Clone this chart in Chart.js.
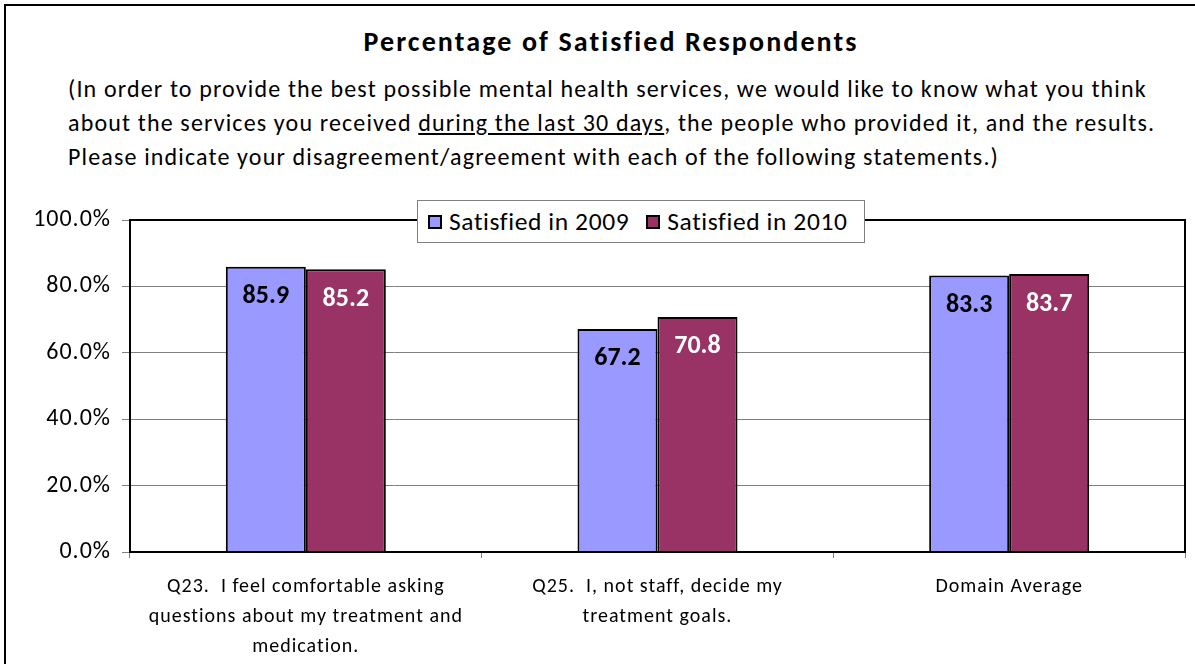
<!DOCTYPE html>
<html>
<head>
<meta charset="utf-8">
<script src="https://cdn.jsdelivr.net/npm/chart.js@4"></script>
<style>
    body { margin: 0; background: #fff; }
    #wrap { position: relative; width: 1195px; height: 664px; overflow: hidden; font-family: Carlito, Lato, "Liberation Sans", sans-serif; }
    #frame { position: absolute; left: 4px; top: 4px; width: 1300px; height: 800px; border: 2px solid #000; }
    #titulo { position: absolute; left: 0; width: 1222px; top: 24px; text-align: center; font-weight: bold; font-size: 28px; letter-spacing: 2.1px; color: #000; }
    #subtitulo { position: absolute; left: 68px; top: 72px; font-size: 24px; line-height: 34px; color: #000; letter-spacing: 1.15px; }
    #legenda { position: absolute; left: 417px; top: 200px; width: 446px; height: 41px; border: 1px solid #808080; background: #fff; display: flex; align-items: center; font-size: 25.5px; letter-spacing: 0.6px; }
    .item { display: flex; align-items: center; margin-left: 10px; }
    .item + .item { margin-left: 17px; }
    .caixa { width: 10px; height: 10px; border: 2px solid #000; margin-right: 7px; }
    canvas { position: absolute; left: 0; top: 0; }
</style>
</head>
<body>
<div id="wrap">
    <div id="frame"></div>
    <div id="titulo">Percentage of Satisfied Respondents</div>
    <div id="subtitulo">(In order to provide the best possible mental health services, we would like to know what you think<br>about the services you received <u>during the last 30 days</u>, the people who provided it, and the results.<br>Please indicate your disagreement/agreement with each of the following statements.)</div>
    <canvas id="grafico" width="1195" height="664"></canvas>
    <div id="legenda"></div>
</div>
<script>
const categorias = [
    ["Q23.  I feel comfortable asking", "questions about my treatment and", "medication."],
    ["Q25.  I, not staff, decide my", "treatment goals."],
    "Domain Average"
];
const satisfeitos2009 = [85.9, 67.2, 83.3];
const satisfeitos2010 = [85.2, 70.8, 83.7];
const ticksY = [0, 20, 40, 60, 80, 100];

const fonte = "Carlito, Lato, 'Liberation Sans', sans-serif";

// espacamento entre letras para os textos dos eixos
const espacamento = {
    id: "espacamento",
    beforeDraw(chart) {
        chart.ctx.letterSpacing = "1px";
    }
};

// borda preta em volta da area do grafico
const bordaArea = {
    id: "bordaArea",
    afterDraw(chart) {
        const { ctx, chartArea: a } = chart;
        ctx.save();
        ctx.strokeStyle = "#000";
        ctx.lineWidth = 2;
        ctx.strokeRect(a.left, a.top, a.right - a.left, a.bottom - a.top);
        ctx.restore();
    }
};

// valores escritos dentro das barras, perto do topo
const rotulosValores = {
    id: "rotulosValores",
    afterDatasetsDraw(chart) {
        const ctx = chart.ctx;
        ctx.save();
        ctx.letterSpacing = "0px";
        ctx.font = "bold 26px " + fonte;
        ctx.textAlign = "center";
        ctx.textBaseline = "middle";
        chart.data.datasets.forEach((ds, i) => {
            chart.getDatasetMeta(i).data.forEach((barra, j) => {
                ctx.fillStyle = ds.corRotulo;
                ctx.fillText(ds.data[j].toFixed(1), barra.x, barra.y + 30);
            });
        });
        ctx.restore();
    }
};

const ctx = document.getElementById("grafico").getContext("2d");
const grafico = new Chart(ctx, {
    type: "bar",
    data: {
        labels: categorias,
        datasets: [
            {
                label: "Satisfied in 2009",
                data: satisfeitos2009,
                backgroundColor: "#9999FF",
                borderColor: "#000",
                borderWidth: 2,
                corRotulo: "#000",
            },
            {
                label: "Satisfied in 2010",
                data: satisfeitos2010,
                backgroundColor: "#993366",
                borderColor: "#000",
                borderWidth: 2,
                corRotulo: "#fff",
            },
        ],
    },
    options: {
        responsive: false,
        animation: false,
        layout: { padding: { left: 0, top: 220, right: 10, bottom: 0 } },
        datasets: { bar: { categoryPercentage: 0.455, barPercentage: 1.0 } },
        plugins: {
            legend: { display: false },
            tooltip: { enabled: false },
        },
        scales: {
            x: {
                grid: { drawOnChartArea: false, color: "#808080", tickLength: 6, offset: true },
                border: { color: "#000", width: 2 },
                ticks: {
                    color: "#000",
                    font: { family: fonte, size: 20, lineHeight: 1.5 },
                    padding: 14,
                    maxRotation: 0,
                    autoSkip: false,
                },
                afterFit(escala) { escala.height = 112; },
            },
            y: {
                min: 0,
                max: 100,
                afterBuildTicks(escala) { escala.ticks = ticksY.map((v) => ({ value: v })); },
                grid: { color: "#808080", lineWidth: 1, tickLength: 8 },
                border: { color: "#000", width: 2 },
                ticks: {
                    color: "#000",
                    font: { family: fonte, size: 24 },
                    padding: 11,
                    callback: (v) => v.toFixed(1) + "%",
                },
                afterFit(escala) { escala.width = 130; },
            },
        },
    },
    plugins: [espacamento, bordaArea, rotulosValores],
});

// legenda em html, montada a partir dos datasets
const legenda = document.getElementById("legenda");
grafico.data.datasets.forEach((ds) => {
    const item = document.createElement("div");
    item.className = "item";
    const caixa = document.createElement("div");
    caixa.className = "caixa";
    caixa.style.background = ds.backgroundColor;
    const texto = document.createElement("span");
    texto.textContent = ds.label;
    item.appendChild(caixa);
    item.appendChild(texto);
    legenda.appendChild(item);
});
</script>
</body>
</html>
